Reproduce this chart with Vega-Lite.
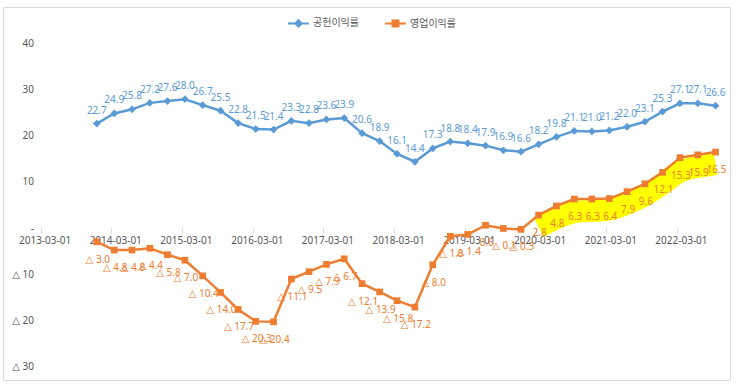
{
  "$schema": "https://vega.github.io/schema/vega-lite/v6.json",
  "width": 727,
  "height": 373,
  "autosize": {"type": "none"},
  "padding": {"left": 3, "top": 7, "right": 11, "bottom": 8},
  "background": "white",
  "config": {
    "view": {"stroke": "#D9D9D9", "strokeWidth": 1},
    "locale": {"number": {"decimal": ".", "thousands": ",", "grouping": [3], "currency": ["", ""], "minus": "△ "}}
  },
  "data": {"values": [
    {"date": "2013-12-01", "series": "공헌이익률", "value": 22.7},
    {"date": "2014-03-01", "series": "공헌이익률", "value": 24.9},
    {"date": "2014-06-01", "series": "공헌이익률", "value": 25.8},
    {"date": "2014-09-01", "series": "공헌이익률", "value": 27.2},
    {"date": "2014-12-01", "series": "공헌이익률", "value": 27.6},
    {"date": "2015-03-01", "series": "공헌이익률", "value": 28.0},
    {"date": "2015-06-01", "series": "공헌이익률", "value": 26.7},
    {"date": "2015-09-01", "series": "공헌이익률", "value": 25.5},
    {"date": "2015-12-01", "series": "공헌이익률", "value": 22.8},
    {"date": "2016-03-01", "series": "공헌이익률", "value": 21.5},
    {"date": "2016-06-01", "series": "공헌이익률", "value": 21.4},
    {"date": "2016-09-01", "series": "공헌이익률", "value": 23.3},
    {"date": "2016-12-01", "series": "공헌이익률", "value": 22.8},
    {"date": "2017-03-01", "series": "공헌이익률", "value": 23.6},
    {"date": "2017-06-01", "series": "공헌이익률", "value": 23.9},
    {"date": "2017-09-01", "series": "공헌이익률", "value": 20.6},
    {"date": "2017-12-01", "series": "공헌이익률", "value": 18.9},
    {"date": "2018-03-01", "series": "공헌이익률", "value": 16.1},
    {"date": "2018-06-01", "series": "공헌이익률", "value": 14.4},
    {"date": "2018-09-01", "series": "공헌이익률", "value": 17.3},
    {"date": "2018-12-01", "series": "공헌이익률", "value": 18.8},
    {"date": "2019-03-01", "series": "공헌이익률", "value": 18.4},
    {"date": "2019-06-01", "series": "공헌이익률", "value": 17.9},
    {"date": "2019-09-01", "series": "공헌이익률", "value": 16.9},
    {"date": "2019-12-01", "series": "공헌이익률", "value": 16.6},
    {"date": "2020-03-01", "series": "공헌이익률", "value": 18.2},
    {"date": "2020-06-01", "series": "공헌이익률", "value": 19.8},
    {"date": "2020-09-01", "series": "공헌이익률", "value": 21.1},
    {"date": "2020-12-01", "series": "공헌이익률", "value": 21.0},
    {"date": "2021-03-01", "series": "공헌이익률", "value": 21.2},
    {"date": "2021-06-01", "series": "공헌이익률", "value": 22.0},
    {"date": "2021-09-01", "series": "공헌이익률", "value": 23.1},
    {"date": "2021-12-01", "series": "공헌이익률", "value": 25.3},
    {"date": "2022-03-01", "series": "공헌이익률", "value": 27.1},
    {"date": "2022-06-01", "series": "공헌이익률", "value": 27.1},
    {"date": "2022-09-01", "series": "공헌이익률", "value": 26.6},
    {"date": "2013-12-01", "series": "영업이익률", "value": -3.0},
    {"date": "2014-03-01", "series": "영업이익률", "value": -4.8},
    {"date": "2014-06-01", "series": "영업이익률", "value": -4.8},
    {"date": "2014-09-01", "series": "영업이익률", "value": -4.4},
    {"date": "2014-12-01", "series": "영업이익률", "value": -5.8},
    {"date": "2015-03-01", "series": "영업이익률", "value": -7.0},
    {"date": "2015-06-01", "series": "영업이익률", "value": -10.4},
    {"date": "2015-09-01", "series": "영업이익률", "value": -14.0},
    {"date": "2015-12-01", "series": "영업이익률", "value": -17.7},
    {"date": "2016-03-01", "series": "영업이익률", "value": -20.3},
    {"date": "2016-06-01", "series": "영업이익률", "value": -20.4},
    {"date": "2016-09-01", "series": "영업이익률", "value": -11.1},
    {"date": "2016-12-01", "series": "영업이익률", "value": -9.5},
    {"date": "2017-03-01", "series": "영업이익률", "value": -7.9},
    {"date": "2017-06-01", "series": "영업이익률", "value": -6.7},
    {"date": "2017-09-01", "series": "영업이익률", "value": -12.1},
    {"date": "2017-12-01", "series": "영업이익률", "value": -13.9},
    {"date": "2018-03-01", "series": "영업이익률", "value": -15.8},
    {"date": "2018-06-01", "series": "영업이익률", "value": -17.2},
    {"date": "2018-09-01", "series": "영업이익률", "value": -8.0},
    {"date": "2018-12-01", "series": "영업이익률", "value": -1.8},
    {"date": "2019-03-01", "series": "영업이익률", "value": -1.4},
    {"date": "2019-06-01", "series": "영업이익률", "value": 0.6},
    {"date": "2019-09-01", "series": "영업이익률", "value": -0.1},
    {"date": "2019-12-01", "series": "영업이익률", "value": -0.3},
    {"date": "2020-03-01", "series": "영업이익률", "value": 2.8},
    {"date": "2020-06-01", "series": "영업이익률", "value": 4.8},
    {"date": "2020-09-01", "series": "영업이익률", "value": 6.3},
    {"date": "2020-12-01", "series": "영업이익률", "value": 6.3},
    {"date": "2021-03-01", "series": "영업이익률", "value": 6.4},
    {"date": "2021-06-01", "series": "영업이익률", "value": 7.9},
    {"date": "2021-09-01", "series": "영업이익률", "value": 9.6},
    {"date": "2021-12-01", "series": "영업이익률", "value": 12.1},
    {"date": "2022-03-01", "series": "영업이익률", "value": 15.3},
    {"date": "2022-06-01", "series": "영업이익률", "value": 15.9},
    {"date": "2022-09-01", "series": "영업이익률", "value": 16.5}
  ]},
  "encoding": {
    "x": {
      "field": "date", "type": "temporal",
      "scale": {"type": "utc", "nice": false,
        "domain": [{"year": 2012, "month": 8, "date": 19, "utc": true}, {"year": 2022, "month": 11, "date": 30, "utc": true}]},
      "axis": {
        "orient": "bottom", "offset": -152, "title": null, "grid": false, "domain": false,
        "values": [
          {"year": 2013, "month": 3, "date": 1, "utc": true},
          {"year": 2014, "month": 3, "date": 1, "utc": true},
          {"year": 2015, "month": 3, "date": 1, "utc": true},
          {"year": 2016, "month": 3, "date": 1, "utc": true},
          {"year": 2017, "month": 3, "date": 1, "utc": true},
          {"year": 2018, "month": 3, "date": 1, "utc": true},
          {"year": 2019, "month": 3, "date": 1, "utc": true},
          {"year": 2020, "month": 3, "date": 1, "utc": true},
          {"year": 2021, "month": 3, "date": 1, "utc": true},
          {"year": 2022, "month": 3, "date": 1, "utc": true}
        ],
        "format": "%Y-%m-%d", "ticks": true, "tickColor": "#D9D9D9", "tickSize": 5, "tickWidth": 1,
        "labelColor": "#595959", "labelFont": "Noto Sans", "labelFontSize": 10, "labelPadding": 2,
        "labelOffset": 4, "labelFlush": false, "labelOverlap": false
      }
    },
    "y": {
      "field": "value", "type": "quantitative",
      "scale": {"domain": [-33.043, 48.043], "nice": false, "zero": false},
      "axis": {
        "orient": "left", "offset": -37.5, "title": null, "grid": false, "domain": false, "ticks": false,
        "values": [-30, -20, -10, 0, 10, 20, 30, 40],
        "labelExpr": "datum.value === 0 ? '-' : datum.label",
        "labelColor": "#595959", "labelFont": "Noto Sans, DejaVu Sans", "labelFontSize": 10, "labelPadding": 7
      }
    }
  },
  "layer": [
    {
      "data": {"values": [{"k": 1}]},
      "mark": {"type": "rule", "color": "#D9D9D9", "strokeWidth": 1},
      "encoding": {
        "x": {"datum": {"year": 2013, "month": 3, "date": 1, "utc": true}, "type": "temporal"},
        "y": {"datum": -30, "type": "quantitative"},
        "y2": {"datum": 40}
      }
    },
    {
      "data": {"values": [{"k": 1}]},
      "mark": {"type": "rule", "color": "#D9D9D9", "strokeWidth": 1},
      "encoding": {
        "x": {"datum": {"year": 2013, "month": 3, "date": 1, "utc": true}, "type": "temporal"},
        "x2": {"datum": {"year": 2022, "month": 10, "date": 1, "utc": true}},
        "y": {"datum": 0, "type": "quantitative"}
      }
    },
    {
      "transform": [
        {"filter": {"field": "series", "equal": "영업이익률"}},
        {"filter": {"field": "date", "timeUnit": "utcyear", "gte": 2020}}
      ],
      "mark": {"type": "line", "color": "#FFFF00", "strokeWidth": 22, "yOffset": 12, "xOffset": 3, "interpolate": "basis", "strokeCap": "butt"}
    },
    {
      "mark": {"type": "line", "strokeWidth": 2.5, "xOffset": 3},
      "encoding": {
        "color": {
          "field": "series", "type": "nominal",
          "scale": {"domain": ["공헌이익률", "영업이익률"], "range": ["#5B9BD5", "#ED7D31"]},
          "legend": {
            "orient": "none", "legendX": 290.5, "legendY": 11, "direction": "horizontal", "title": null,
            "labelFont": "Noto Sans CJK KR", "labelFontSize": 10, "labelColor": "#595959",
            "symbolSize": 64, "labelOffset": 9.5, "columnPadding": 21, "padding": 0,
            "symbolType": {"expr": "datum.value === '공헌이익률' ? 'M-2.6,0L2.6,0M0,-0.8L0.8,0L0,0.8L-0.8,0Z' : 'M-2.6,0L2.6,0M-0.75,-0.75L0.75,-0.75L0.75,0.75L-0.75,0.75Z'"},
            "symbolFillColor": {"expr": "datum.value === '공헌이익률' ? '#5B9BD5' : '#ED7D31'"},
            "symbolStrokeColor": {"expr": "datum.value === '공헌이익률' ? '#5B9BD5' : '#ED7D31'"},
            "symbolStrokeWidth": 2
          }
        }
      }
    },
    {
      "transform": [{"filter": {"field": "series", "equal": "공헌이익률"}}],
      "mark": {"type": "point", "shape": "diamond", "filled": true, "opacity": 1, "size": 60, "color": "#5B9BD5", "xOffset": 3}
    },
    {
      "transform": [{"filter": {"field": "series", "equal": "영업이익률"}}],
      "mark": {"type": "point", "shape": "square", "filled": true, "opacity": 1, "size": 45, "color": "#ED7D31", "xOffset": 3}
    },
    {
      "transform": [{"filter": {"field": "series", "equal": "공헌이익률"}}],
      "mark": {"type": "text", "dy": -13, "baseline": "middle", "align": "center", "font": "Noto Sans, DejaVu Sans", "fontSize": 10, "color": "#5B9BD5", "xOffset": 3},
      "encoding": {"text": {"field": "value", "type": "quantitative", "format": ".1f"}}
    },
    {
      "transform": [{"filter": {"field": "series", "equal": "영업이익률"}}],
      "mark": {"type": "text", "dy": 18, "baseline": "middle", "align": "center", "font": "Noto Sans, DejaVu Sans", "fontSize": 10, "color": "#ED7D31", "xOffset": 4},
      "encoding": {"text": {"field": "value", "type": "quantitative", "format": ".1f"}}
    }
  ]
}
